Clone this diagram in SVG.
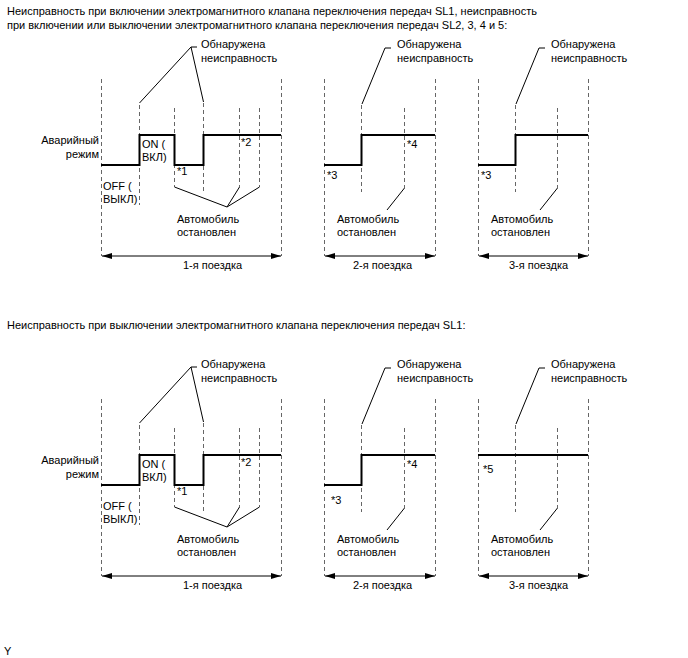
<svg xmlns="http://www.w3.org/2000/svg" width="688" height="658" viewBox="0 0 688 658">
<defs>
<style>
text{font-family:"Liberation Sans",Arial,sans-serif;font-size:11px;fill:#000}
.d{stroke:#666;stroke-width:1;stroke-dasharray:4 3;fill:none}
.s{stroke:#000;stroke-width:2;fill:none}
.l{stroke:#000;stroke-width:1;fill:none}
.a{stroke:#000;stroke-width:1;fill:none;marker-start:url(#ah);marker-end:url(#ah)}
.r{text-anchor:end}
</style>
<marker id="ah" viewBox="0 0 10 6" refX="10" refY="3" markerWidth="10" markerHeight="6" markerUnits="userSpaceOnUse" orient="auto-start-reverse">
<path d="M0,0 L10,3 L0,6 Z" fill="#000"/>
</marker>
<g id="panel1">
<path class="d" d="M101.5,79V256M139.5,105V205M174.5,108V187M203.5,103V193M239.5,108V187M259.5,108V187M281.5,79V256"/>
<path class="s" d="M101,165H139.5V135H174.5V165H203.5V135H281"/>
<path class="l" d="M139.5,103L191,47H197M191,47L203.5,102"/>
<path class="l" d="M174.5,187L227,207L239.5,187M227,207L259.5,187"/>
<path class="a" d="M102,256H281"/>
<text x="201" y="48">Обнаружена</text>
<text x="201" y="62">неисправность</text>
<text class="r" x="99" y="144">Аварийный</text>
<text class="r" x="99" y="158">режим</text>
<text x="142" y="148">ON (</text>
<text x="142" y="161">ВКЛ)</text>
<text x="103" y="190">OFF (</text>
<text x="103" y="203">ВЫКЛ)</text>
<text x="177" y="175">*1</text>
<text x="241" y="146">*2</text>
<text x="177" y="223">Автомобиль</text>
<text x="177" y="236">остановлен</text>
<text x="183" y="269">1-я поездка</text>
</g>
<g id="panel2">
<path class="d" d="M324.5,79V256M361.5,105V192M404.5,108V188M435.5,79V256"/>
<path class="s" d="M324,165H361.5V135H435"/>
<path class="l" d="M362,104L385,48H391"/>
<path class="l" d="M404.5,188L387,210"/>
<path class="a" d="M325,256H435"/>
<text x="397" y="48">Обнаружена</text>
<text x="397" y="62">неисправность</text>
<text x="327" y="179">*3</text>
<text x="407" y="148">*4</text>
<text x="337" y="223">Автомобиль</text>
<text x="337" y="236">остановлен</text>
<text x="353" y="269">2-я поездка</text>
</g>
<g id="panel3">
<path class="d" d="M478.5,79V256M515.5,105V192M557.5,108V188M588.5,79V256"/>
<path class="s" d="M478,165H515.5V135H588"/>
<path class="l" d="M516,104L539,48H545"/>
<path class="l" d="M557.5,188L540,210"/>
<path class="a" d="M479,256H588"/>
<text x="551" y="48">Обнаружена</text>
<text x="551" y="62">неисправность</text>
<text x="481" y="179">*3</text>
<text x="491" y="223">Автомобиль</text>
<text x="491" y="236">остановлен</text>
<text x="509" y="269">3-я поездка</text>
</g>
</defs>
<rect width="688" height="658" fill="#fff"/>
<text x="7" y="15">Неисправность при включении электромагнитного клапана переключения передач SL1, неисправность</text>
<text x="7" y="29">при включении или выключении электромагнитного клапана переключения передач SL2, 3, 4 и 5:</text>
<use href="#panel1"/>
<use href="#panel2"/>
<use href="#panel3"/>
<text x="7" y="329">Неисправность при выключении электромагнитного клапана переключения передач SL1:</text>
<g id="lower1" transform="translate(0,320)">
<path class="d" d="M101.5,79V256M139.5,105V205M174.5,108V187M203.5,103V193M239.5,108V187M259.5,108V187M281.5,79V256"/>
<path class="s" d="M101,165H139.5V135H174.5V165H203.5V135H281"/>
<path class="l" d="M139.5,103L191,47H197M191,47L203.5,102"/>
<path class="l" d="M174.5,187L227,207L239.5,187M227,207L259.5,187"/>
<path class="a" d="M102,256H281"/>
<text x="201" y="48">Обнаружена</text>
<text x="201" y="62">неисправность</text>
<text class="r" x="99" y="144">Аварийный</text>
<text class="r" x="99" y="158">режим</text>
<text x="142" y="148">ON (</text>
<text x="142" y="161">ВКЛ)</text>
<text x="103" y="190">OFF (</text>
<text x="103" y="203">ВЫКЛ)</text>
<text x="177" y="175">*1</text>
<text x="241" y="146">*2</text>
<text x="177" y="223">Автомобиль</text>
<text x="177" y="236">остановлен</text>
<text x="183" y="269">1-я поездка</text>
</g>
<g id="lower2" transform="translate(0,320)">
<path class="d" d="M324.5,79V256M361.5,105V192M404.5,108V188M435.5,79V256"/>
<path class="s" d="M324,165H361.5V135H435"/>
<path class="l" d="M362,104L385,48H391"/>
<path class="l" d="M404.5,188L387,210"/>
<path class="a" d="M325,256H435"/>
<text x="397" y="48">Обнаружена</text>
<text x="397" y="62">неисправность</text>
<text x="331" y="184">*3</text>
<text x="407" y="148">*4</text>
<text x="337" y="223">Автомобиль</text>
<text x="337" y="236">остановлен</text>
<text x="353" y="269">2-я поездка</text>
</g>
<g id="lower3" transform="translate(0,320)">
<path class="d" d="M478.5,79V256M515.5,105V192M557.5,108V188M588.5,79V256"/>
<path class="s" d="M478,135H588"/>
<path class="l" d="M516,104L539,48H545"/>
<path class="l" d="M557.5,188L540,210"/>
<path class="a" d="M479,256H588"/>
<text x="551" y="48">Обнаружена</text>
<text x="551" y="62">неисправность</text>
<text x="483" y="153">*5</text>
<text x="491" y="223">Автомобиль</text>
<text x="491" y="236">остановлен</text>
<text x="509" y="269">3-я поездка</text>
</g>
<text x="4" y="655">Y</text>
</svg>
